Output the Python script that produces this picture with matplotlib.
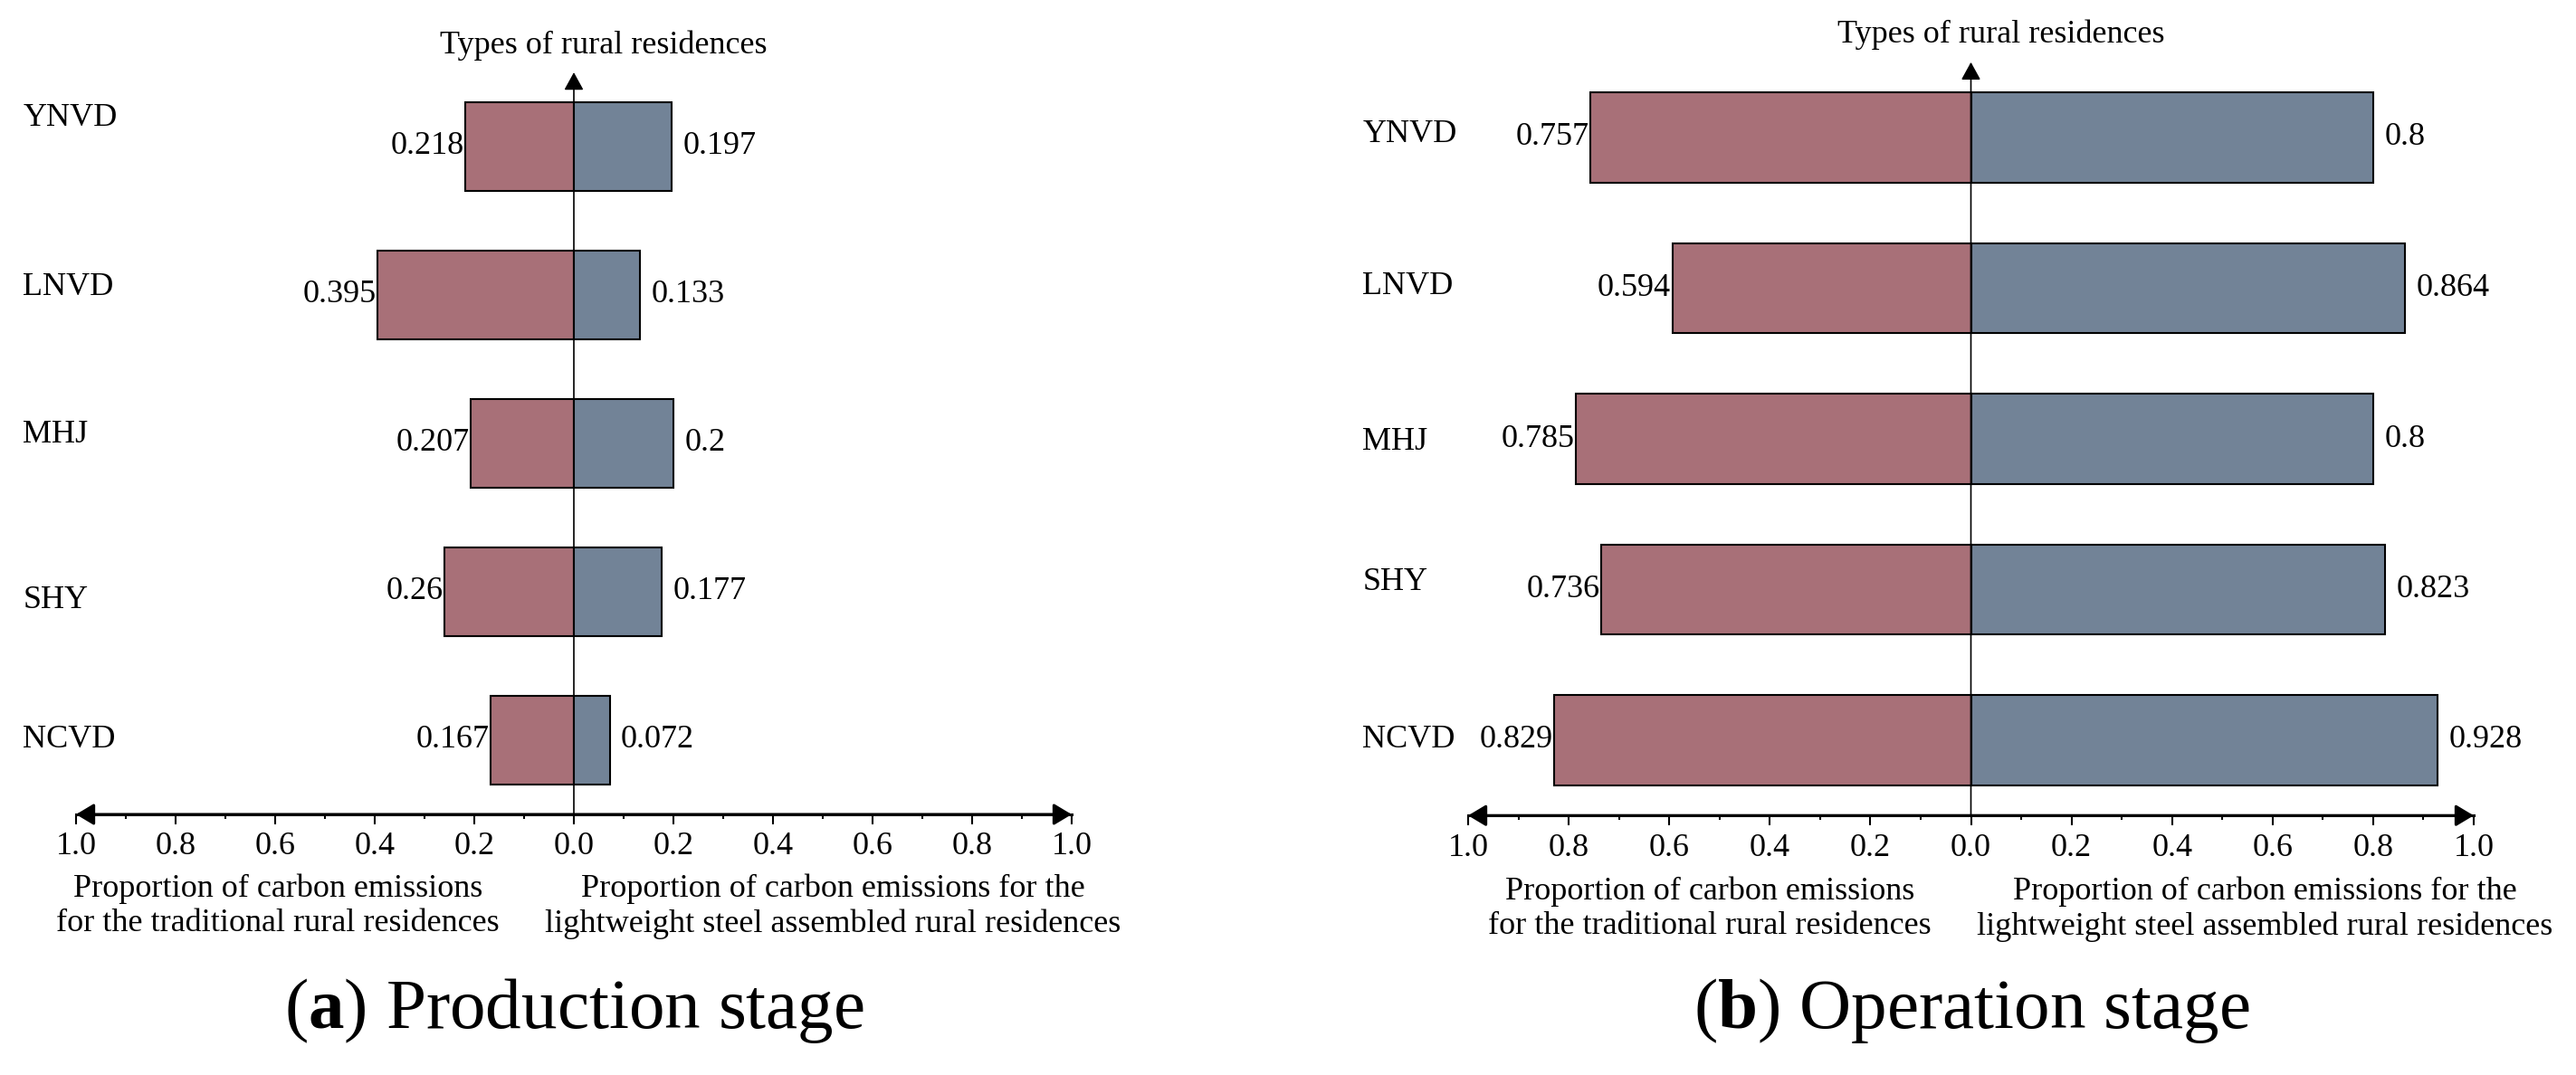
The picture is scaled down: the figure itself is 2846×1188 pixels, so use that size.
import numpy as np
import matplotlib
matplotlib.use("Agg")
import matplotlib.pyplot as plt

plt.rcParams['font.family'] = ['Liberation Serif', 'DejaVu Serif']
plt.rcParams['font.size'] = 26
plt.rcParams['mathtext.fontset'] = 'custom'
plt.rcParams['mathtext.rm'] = 'Liberation Serif'
plt.rcParams['mathtext.bf'] = 'Liberation Serif:bold'

types = ['YNVD', 'LNVD', 'MHJ', 'SHY', 'NCVD']
prod_trad = [0.218, 0.395, 0.207, 0.26, 0.167]
prod_steel = [0.197, 0.133, 0.2, 0.177, 0.072]
oper_trad = [0.757, 0.594, 0.785, 0.736, 0.829]
oper_steel = [0.8, 0.864, 0.8, 0.823, 0.928]

tick_vals = np.arange(-1.0, 1.01, 0.2)
tick_text = [f"{abs(v):.1f}" for v in tick_vals]

left_label = "Proportion of carbon emissions\nfor the traditional rural residences"
right_label = "Proportion of carbon emissions for the\nlightweight steel assembled rural residences"
vert_label = "Types of rural residences"

c_trad = '#A87078'
c_steel = '#728397'

fig = plt.figure(figsize=(28.46, 11.88), dpi=100)
ax_a = fig.add_axes([84 / 2846, 288 / 1188, 1100 / 2846, 820 / 1188])
ax_b = fig.add_axes([1622 / 2846, 286.75 / 1188, 1111 / 2846, 832.5 / 1188])


def draw_panel(ax, trad, steel, name_x, name_nudge, foot_x):
    y = np.arange(len(types))[::-1]
    ax.barh(y, -np.array(trad), height=0.6, color=c_trad, edgecolor='black', linewidth=1.5, zorder=2)
    ax.barh(y, steel, height=0.6, color=c_steel, edgecolor='black', linewidth=1.5, zorder=2)
    ax.set_xlim(-1, 1)
    ax.set_ylim(-0.5, 4.5)

    for s in ['left', 'right', 'top']:
        ax.spines[s].set_visible(False)
    ax.spines['bottom'].set_linewidth(2.2)
    ax.set_yticks([])
    ax.set_xticks(tick_vals)
    ax.set_xticklabels(tick_text)
    ax.set_xticks(np.arange(-0.9, 0.91, 0.2), minor=True)
    ax.tick_params(axis='x', which='major', length=7.9, width=1.5, pad=6, direction='out')
    ax.tick_params(axis='x', which='minor', length=3.6, width=1.5, direction='out')

    # arrows on both axes
    ax.annotate('', xy=(1, -0.5), xytext=(-1, -0.5),
                arrowprops=dict(arrowstyle='<|-|>,head_length=0.6,head_width=0.36',
                                lw=2.2, color='black', shrinkA=0, shrinkB=0,
                                mutation_scale=20),
                annotation_clip=False, zorder=5)
    ax.annotate('', xy=(0, 4.5), xytext=(0, -0.5),
                arrowprops=dict(arrowstyle='-|>,head_length=0.6,head_width=0.33',
                                lw=1.2, color='black', shrinkA=0, shrinkB=0,
                                mutation_scale=20),
                annotation_clip=False, zorder=5)

    for yi, t, s in zip(y, trad, steel):
        ax.annotate(f"{t:g}", xy=(-t, yi), xytext=(-1, 0), textcoords='offset points',
                    ha='right', va='center')
        ax.annotate(f"{s:g}", xy=(s, yi), xytext=(9, 0), textcoords='offset points',
                    ha='left', va='center')

    for yi, name, dy in zip(y, types, name_nudge):
        ax.text(name_x, yi + dy, name, ha='left', va='center', clip_on=False)

    ax.text(0.06, 4.63, vert_label, ha='center', va='baseline', clip_on=False)
    ax.text(foot_x[0], -1.12, left_label, ha='center', va='center',
            linespacing=1.2, clip_on=False)
    ax.text(foot_x[1], -1.12, right_label, ha='center', va='center',
            linespacing=1.2, clip_on=False)


draw_panel(ax_a, prod_trad, prod_steel, -1.107, [0.195, 0.05, 0.06, -0.055, 0.0], (-0.595, 0.52))
draw_panel(ax_b, oper_trad, oper_steel, -1.21, [0.02, 0.01, -0.02, 0.05, 0.0], (-0.52, 0.585))

fig.text(634 / 2846, 0.06, r"($\mathbf{a}$) Production stage", ha='center', va='center', fontsize=57)
fig.text(2178 / 2846, 0.06, r"($\mathbf{b}$) Operation stage", ha='center', va='center', fontsize=57)

fig.savefig('out.png', dpi=100)
